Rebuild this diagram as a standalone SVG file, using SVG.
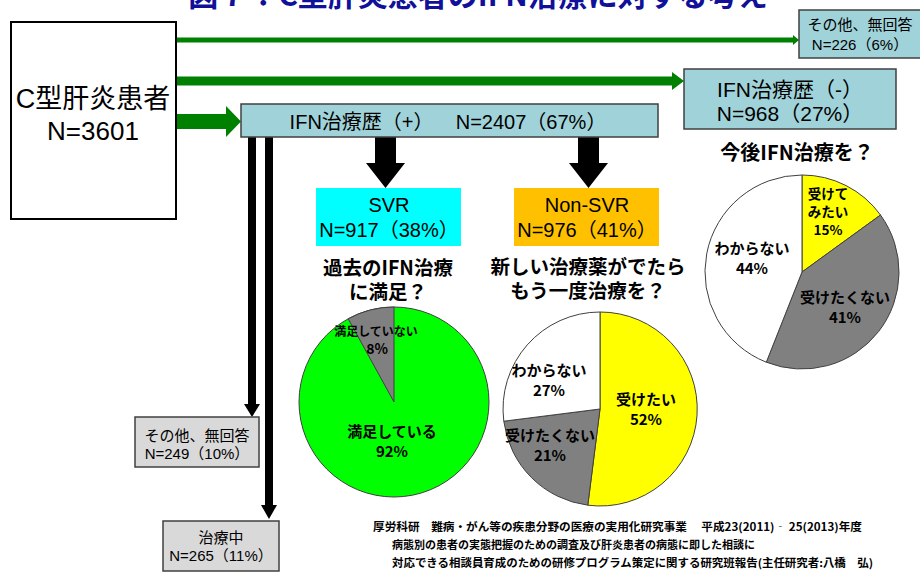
<svg xmlns="http://www.w3.org/2000/svg" width="920" height="576" viewBox="0 0 920 576">
<style>
.t{font-family:"Liberation Sans","Noto Sans CJK JP",sans-serif;fill:#000;text-anchor:middle}
.b{font-family:"Noto Sans CJK JP","Liberation Sans",sans-serif;font-weight:bold;fill:#000;text-anchor:middle}
.teal{fill:#a0d3d9;stroke:#404040;stroke-width:1.5}
.grey{fill:#d9d9d9;stroke:#404040;stroke-width:1.5}
.pie{stroke:#404040;stroke-width:1}
</style>
<rect width="920" height="576" fill="#fff"/>
<text x="478" y="6" class="b" font-size="30" style="fill:#10109a">図７：C型肝炎患者のIFN治療に対する考え</text>

<g id="connectors">
  <line x1="176" y1="40" x2="794" y2="40" stroke="#008000" stroke-width="5"/>
  <polygon points="793,35 799,40 793,45" fill="#008000"/>
  <line x1="177" y1="81" x2="674" y2="81" stroke="#008000" stroke-width="9"/>
  <polygon points="672,72 684,81 672,90" fill="#008000"/>
  <rect x="177" y="114" width="50" height="15" fill="#008000"/>
  <polygon points="226,106 241,121.5 226,137" fill="#008000"/>
  <rect x="248" y="137" width="8" height="268" fill="#000"/>
  <polygon points="244,404 260,404 252,417" fill="#000"/>
  <rect x="265" y="137" width="8" height="369" fill="#000"/>
  <polygon points="261,505 277,505 269,519" fill="#000"/>
  <polygon points="375,137 396,137 396,163 405,163 385.5,188 366,163 375,163" fill="#000"/>
  <polygon points="578,137 599,137 599,163 608,163 588.5,188 569,163 578,163" fill="#000"/>
</g>

<g id="patients">
  <rect x="11" y="22" width="165" height="197" fill="#fff" stroke="#000" stroke-width="2"/>
  <text x="93" y="108" class="t" font-size="27">C型肝炎患者</text>
  <text x="93" y="140" class="t" font-size="26">N=3601</text>
</g>
<g id="other-top">
  <rect x="799" y="10" width="122" height="48" class="teal"/>
  <text x="860" y="30" class="t" font-size="15">その他、無回答</text>
  <text x="860" y="50" class="t" font-size="15">N=226（6%）</text>
</g>
<g id="ifn-minus">
  <rect x="684" y="69" width="212" height="60" class="teal"/>
  <text x="790" y="97" class="t" font-size="21">IFN治療歴（-）</text>
  <text x="790" y="121" class="t" font-size="21">N=968（27%）</text>
</g>
<g id="ifn-plus">
  <rect x="241" y="104" width="417" height="33" class="teal"/>
  <text x="448" y="129" class="t" font-size="20" xml:space="preserve">IFN治療歴（+）    N=2407（67%）</text>
</g>
<g id="svr">
  <rect x="316" y="188" width="145" height="58" fill="#00ffff"/>
  <text x="389" y="212" class="t" font-size="20">SVR</text>
  <text x="389" y="237" class="t" font-size="20">N=917（38%）</text>
</g>
<g id="non-svr">
  <rect x="514" y="188" width="145" height="58" fill="#ffc000"/>
  <text x="587" y="212" class="t" font-size="20">Non-SVR</text>
  <text x="587" y="237" class="t" font-size="20">N=976（41%）</text>
</g>
<g id="other-249">
  <rect x="135" y="417" width="124" height="50" class="grey"/>
  <text x="197" y="441" class="t" font-size="15">その他、無回答</text>
  <text x="197" y="459" class="t" font-size="15">N=249（10%）</text>
</g>
<g id="treating">
  <rect x="163" y="521" width="116" height="50" class="grey"/>
  <text x="221" y="543" class="t" font-size="15">治療中</text>
  <text x="221" y="561" class="t" font-size="15">N=265（11%）</text>
</g>

<g id="pie-svr">
  <text x="388" y="275" class="b" font-size="19.5">過去のIFN治療</text>
  <text x="388" y="299" class="b" font-size="19.5">に満足？</text>
  <circle cx="394" cy="402" r="95" fill="#00ff00" class="pie"/>
  <path d="M394,402 L394,307 A95,95 0 0 0 348.2,318.8 Z" fill="#808080" class="pie"/>
  <text x="376" y="336" class="b" font-size="12">満足していない</text>
  <text x="377" y="354" class="b" font-size="14">8%</text>
  <text x="392" y="437" class="b" font-size="15">満足している</text>
  <text x="392" y="457" class="b" font-size="15">92%</text>
</g>

<g id="pie-nonsvr">
  <text x="588" y="274" class="b" font-size="19.5">新しい治療薬がでたら</text>
  <text x="588" y="298" class="b" font-size="19.5">もう一度治療を？</text>
  <path d="M600,409 L600,312 A97,97 0 1 1 587.8,505.2 Z" fill="#ffff00" class="pie"/>
  <path d="M600,409 L587.8,505.2 A97,97 0 0 1 503.8,421.2 Z" fill="#808080" class="pie"/>
  <path d="M600,409 L503.8,421.2 A97,97 0 0 1 600,312 Z" fill="#ffffff" class="pie"/>
  <text x="549" y="376" class="b" font-size="15">わからない</text>
  <text x="549" y="396" class="b" font-size="15">27%</text>
  <text x="646" y="405" class="b" font-size="15">受けたい</text>
  <text x="646" y="425" class="b" font-size="15">52%</text>
  <text x="550" y="441" class="b" font-size="15">受けたくない</text>
  <text x="550" y="461" class="b" font-size="15">21%</text>
</g>

<g id="pie-minus">
  <text x="797" y="160" class="b" font-size="20">今後IFN治療を？</text>
  <path d="M802,272 L802,175 A97,97 0 0 1 880.5,215 Z" fill="#ffff00" class="pie"/>
  <path d="M802,272 L880.5,215 A97,97 0 0 1 766.3,362.2 Z" fill="#808080" class="pie"/>
  <path d="M802,272 L766.3,362.2 A97,97 0 0 1 802,175 Z" fill="#ffffff" class="pie"/>
  <text x="828" y="199" class="b" font-size="13.5">受けて</text>
  <text x="828" y="217" class="b" font-size="13.5">みたい</text>
  <text x="828" y="235" class="b" font-size="13.5">15%</text>
  <text x="752" y="254" class="b" font-size="15">わからない</text>
  <text x="752" y="274" class="b" font-size="15">44%</text>
  <text x="845" y="303" class="b" font-size="15">受けたくない</text>
  <text x="845" y="323" class="b" font-size="15">41%</text>
</g>

<g id="footnote" font-family="'Noto Sans CJK JP','Liberation Sans',sans-serif" font-weight="bold" font-size="11">
  <text x="373" y="531" textLength="489" lengthAdjust="spacingAndGlyphs" xml:space="preserve">厚労科研　難病・がん等の疾患分野の医療の実用化研究事業　 平成23(2011)‐ 25(2013)年度</text>
  <text x="392" y="549">病態別の患者の実態把握のための調査及び肝炎患者の病態に即した相談に</text>
  <text x="392" y="567" textLength="481" lengthAdjust="spacingAndGlyphs">対応できる相談員育成のための研修プログラム策定に関する研究班報告(主任研究者:八橋　弘)</text>
</g>
</svg>
